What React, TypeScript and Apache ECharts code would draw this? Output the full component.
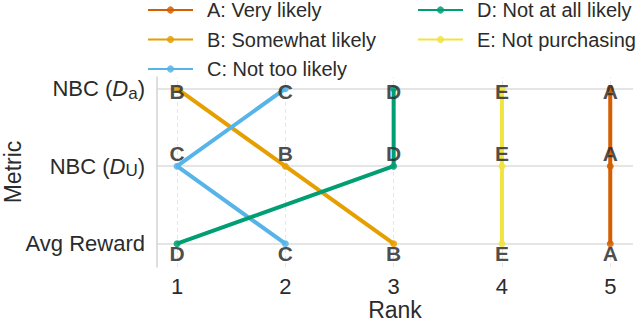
import React, { useEffect, useRef } from "react";
import * as echarts from "echarts";

// Metrics (y axis, bottom to top)
const metricLabels = ["Avg Reward", "NBC ({i|D}{s|U})", "NBC ({i|D}{s|a})"];
const rankTicks = [1, 2, 3, 4, 5];
const metricTicks = [0, 1, 2];

const seriesNames = [
  "A: Very likely",
  "B: Somewhat likely",
  "C: Not too likely",
  "D: Not at all likely",
  "E: Not purchasing",
];
const letters = ["A", "B", "C", "D", "E"];
const colors = ["#d55e00", "#e69f00", "#56b4e9", "#009e73", "#f0e442"];

// Rank of each group per metric, in order [Avg Reward, NBC(D_U), NBC(D_a)]
const ranksA = [5, 5, 5];
const ranksB = [3, 2, 1];
const ranksC = [2, 1, 2];
const ranksD = [1, 3, 3];
const ranksE = [4, 4, 4];
const allRanks = [ranksA, ranksB, ranksC, ranksD, ranksE];

const FONT = '"Liberation Sans", Arial, Helvetica, sans-serif';
const TEXT = "#2b2b2b";
const labelOffsets = [10, -13, 3];

export default function App() {
  const ref = useRef<HTMLDivElement>(null);
  useEffect(() => {
    if (!ref.current) return;
    const chart = echarts.init(ref.current, undefined, { renderer: "svg" });

    const mainSeries = allRanks.map((ranks, si) => ({
      type: "line",
      name: seriesNames[si],
      z: 2,
      color: colors[si],
      lineStyle: { width: 4, color: colors[si] },
      symbol: "circle",
      symbolSize: 7,
      itemStyle: { color: colors[si], opacity: 0.85 },
      emphasis: { disabled: true },
      label: {
        show: true,
        position: "inside",
        formatter: () => letters[si],
        fontFamily: FONT,
        fontWeight: "bold",
        fontSize: 21,
        color: "#2e2e2e",
      },
      data: ranks.map((r, mi) => ({
        value: [r, mi],
        label: { offset: [0, labelOffsets[mi]] },
      })),
    }));

    const gridSeries = {
      type: "line",
      name: "__grid",
      data: [],
      z: 0,
      silent: true,
      markLine: {
        silent: true,
        z: 0,
        symbol: ["none", "none"],
        label: { show: false },
        emphasis: { disabled: true },
        data: [
          ...metricTicks.map((v) => ({
            yAxis: v,
            lineStyle: { color: "#dcdcdc", width: 1.5, type: "solid" },
          })),
          ...rankTicks.map((v) => ({
            xAxis: v,
            lineStyle: { color: "#e6e6e6", width: 1, type: [4, 3] },
          })),
        ],
      },
    };

    const legendCommon = {
      orient: "vertical",
      top: -5,
      itemWidth: 45,
      itemHeight: 9,
      itemGap: 9.5,
      formatter: (name: string) => `{t|${name}}`,
      textStyle: {
        rich: {
          t: {
            fontFamily: FONT,
            fontSize: 20,
            lineHeight: 20,
            color: TEXT,
            padding: [0, 0, 0, 9],
          },
        },
      },
    };

    chart.setOption({
      animation: false,
      backgroundColor: "#ffffff",
      textStyle: { fontFamily: FONT },
      grid: {
        left: 157,
        top: 77,
        width: 476,
        height: 190,
        containLabel: false,
        outerBoundsMode: "none",
      },
      legend: [
        { ...legendCommon, left: 142, data: seriesNames.slice(0, 3) },
        { ...legendCommon, left: 412, data: seriesNames.slice(3) },
      ],
      xAxis: {
        type: "value",
        min: 0.815,
        max: 5.21,
        axisLine: { show: false },
        axisTick: { show: false },
        splitLine: { show: false },
        axisLabel: {
          customValues: rankTicks,
          fontFamily: FONT,
          fontSize: 22,
          color: TEXT,
          margin: 8,
        },
        name: "Rank",
        nameLocation: "middle",
        nameGap: 31,
        nameMoveOverlap: false,
        nameTextStyle: { fontFamily: FONT, fontSize: 23, color: TEXT },
      },
      yAxis: {
        type: "value",
        min: -0.3,
        max: 2.15,
        axisLine: { show: true, lineStyle: { color: "#d3d3d3", width: 1.5 } },
        axisTick: { show: false },
        splitLine: { show: false },
        axisLabel: {
          customValues: metricTicks,
          formatter: (v: number) => metricLabels[Math.round(v)],
          fontFamily: FONT,
          fontSize: 22,
          lineHeight: 26,
          color: TEXT,
          margin: 12,
          rich: {
            i: { fontFamily: FONT, fontSize: 22, lineHeight: 26, fontStyle: "italic", color: TEXT },
            s: { fontFamily: FONT, fontSize: 17, lineHeight: 17, verticalAlign: "bottom", color: TEXT },
          },
        },
        name: "Metric",
        nameLocation: "middle",
        nameGap: 133,
        nameMoveOverlap: false,
        nameTextStyle: { fontFamily: FONT, fontSize: 23, color: TEXT },
      },
      series: [gridSeries, ...mainSeries],
    });
    return () => chart.dispose();
  }, []);
  return (
    <div
      ref={ref}
      style={{ position: "fixed", left: 0, top: 0, width: 640, height: 321 }}
    />
  );
}
